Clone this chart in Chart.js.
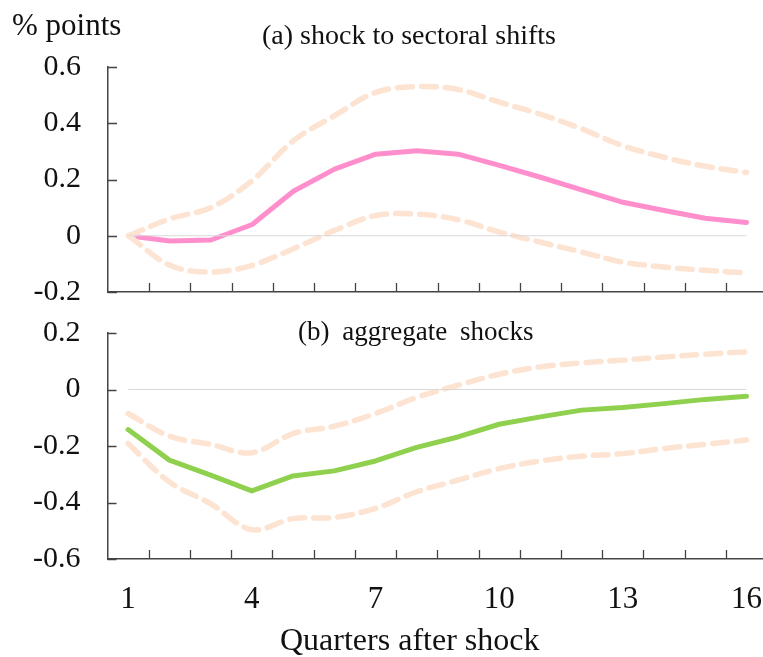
<!DOCTYPE html>
<html>
<head>
<meta charset="utf-8">
<script src="https://cdn.jsdelivr.net/npm/chart.js@4.4.1/dist/chart.umd.min.js"></script>
<style>
  body { margin: 0; background: #fff; overflow: hidden; }
  #wrap { position: relative; width: 763px; height: 657px; font-family: "Liberation Serif", "Times New Roman", serif; color: #111; }
  canvas { position: absolute; left: 0; }
  .lbl { position: absolute; white-space: nowrap; line-height: 1; }
</style>
</head>
<body>
<div id="wrap">
  <canvas id="top" width="763" height="305" style="top:0"></canvas>
  <canvas id="bot" width="763" height="352" style="top:305px"></canvas>
  <div class="lbl" style="left:12px; top:9px; font-size:31px;">% points</div>
  <div class="lbl" style="left:262px; top:21px; font-size:28px;">(a) shock to sectoral shifts</div>
  <div class="lbl" style="left:298px; top:318px; font-size:27px; word-spacing:6px;">(b) aggregate shocks</div>
  <div class="lbl" style="left:280px; top:623px; font-size:32px;">Quarters after shock</div>
</div>
<script>
const quarters = [1, 2, 3, 4, 5, 6, 7, 8, 9, 10, 11, 12, 13, 14, 15, 16];
const xLabels = [1, 4, 7, 10, 13, 16];

// (a) shock to sectoral shifts
const sectoralMid   = [0, -0.019, -0.015, 0.04, 0.158, 0.237, 0.29, 0.302, 0.29, 0.25, 0.208, 0.163, 0.119, 0.09, 0.062, 0.047];
const sectoralUpper = [0, 0.06, 0.10, 0.196, 0.338, 0.427, 0.51, 0.53, 0.52, 0.475, 0.432, 0.38, 0.32, 0.279, 0.247, 0.225];
const sectoralLower = [0, -0.105, -0.129, -0.105, -0.046, 0.019, 0.072, 0.077, 0.057, 0.013, -0.023, -0.058, -0.094, -0.111, -0.123, -0.132];

// (b) aggregate shocks
const aggMid   = [-0.142, -0.25, -0.303, -0.359, -0.306, -0.288, -0.253, -0.205, -0.168, -0.123, -0.097, -0.073, -0.064, -0.05, -0.035, -0.024];
const aggUpper = [-0.085, -0.165, -0.194, -0.224, -0.156, -0.13, -0.085, -0.028, 0.015, 0.054, 0.08, 0.094, 0.104, 0.115, 0.125, 0.133];
const aggLower = [-0.191, -0.327, -0.404, -0.496, -0.457, -0.453, -0.421, -0.362, -0.321, -0.28, -0.253, -0.236, -0.227, -0.209, -0.194, -0.179];

const pink = '#ff8fcc';
const green = '#8fd14f';
const peach = '#fde4d2';
const axisColor = '#444';

function pts(vals) {
    return quarters.map((q, i) => ({ x: q, y: vals[i] }));
}

// short tick marks drawn inward, like the original
const innerTicks = {
    id: 'innerTicks',
    afterDraw(chart) {
        const ctx = chart.ctx;
        const xs = chart.scales.x, ys = chart.scales.y;
        const area = chart.chartArea;
        ctx.save();
        ctx.strokeStyle = axisColor;
        ctx.lineWidth = 1.3;
        ctx.beginPath();
        for (let q = 1.5; q < 16; q++) {
            const px = Math.round(xs.getPixelForValue(q)) + 0.5;
            ctx.moveTo(px, area.bottom);
            ctx.lineTo(px, area.bottom - 9);
        }
        ys.ticks.forEach(t => {
            const py = Math.round(ys.getPixelForValue(t.value)) + 0.5;
            ctx.moveTo(area.left, py);
            ctx.lineTo(area.left + 9, py);
        });
        ctx.stroke();
        ctx.restore();
    }
};

function makeChart(id, mid, upper, lower, color, yMin, yMax, showX, leftW, padTop, xH) {
    const dash = {
        borderColor: peach, borderWidth: 5.5, borderDash: [15, 9], borderCapStyle: 'round',
        pointRadius: 0, fill: false, tension: 0.35
    };
    return new Chart(document.getElementById(id), {
        type: 'line',
        data: {
            datasets: [
                { data: [{ x: 1, y: 0 }, { x: 16, y: 0 }], borderColor: '#d9d9d9', borderWidth: 1.2, pointRadius: 0 },
                Object.assign({ data: pts(upper) }, dash),
                Object.assign({ data: pts(lower) }, dash),
                { data: pts(mid), borderColor: color, borderWidth: 5, pointRadius: 0, tension: 0, borderJoinStyle: 'round', borderCapStyle: 'round' }
            ]
        },
        options: {
            responsive: false,
            animation: false,
            layout: { padding: { top: padTop, right: 0, left: 0, bottom: 0 } },
            plugins: { legend: { display: false }, tooltip: { enabled: false } },
            scales: {
                x: {
                    type: 'linear', min: 0.5, max: 16.4,
                    afterBuildTicks: s => { s.ticks = xLabels.map(v => ({ value: v })); },
                    afterFit: s => { s.height = xH; s.paddingLeft = 0; s.paddingRight = 0; },
                    grid: { display: false, drawTicks: false },
                    border: { display: true, color: axisColor, width: 1.5 },
                    ticks: {
                        display: showX, padding: 22, color: '#111', maxRotation: 0,
                        font: { family: 'Liberation Serif', size: 31 }
                    }
                },
                y: {
                    min: yMin, max: yMax,
                    afterFit: s => { s.width = leftW; s.paddingTop = 0; s.paddingBottom = 0; },
                    grid: { display: false, drawTicks: false },
                    border: { display: true, color: axisColor, width: 1.5 },
                    ticks: {
                        stepSize: 0.2, padding: 27, color: '#111',
                        font: { family: 'Liberation Serif', size: 30 },
                        callback: v => (Math.abs(v) < 1e-9 ? '0' : v.toFixed(1))
                    }
                }
            }
        },
        plugins: [innerTicks]
    });
}

makeChart('top', sectoralMid, sectoralUpper, sectoralLower, pink, -0.2, 0.6, false, 108, 67, 13);
makeChart('bot', aggMid, aggUpper, aggLower, green, -0.6, 0.2, true, 107.5, 28, 98);
</script>
</body>
</html>
